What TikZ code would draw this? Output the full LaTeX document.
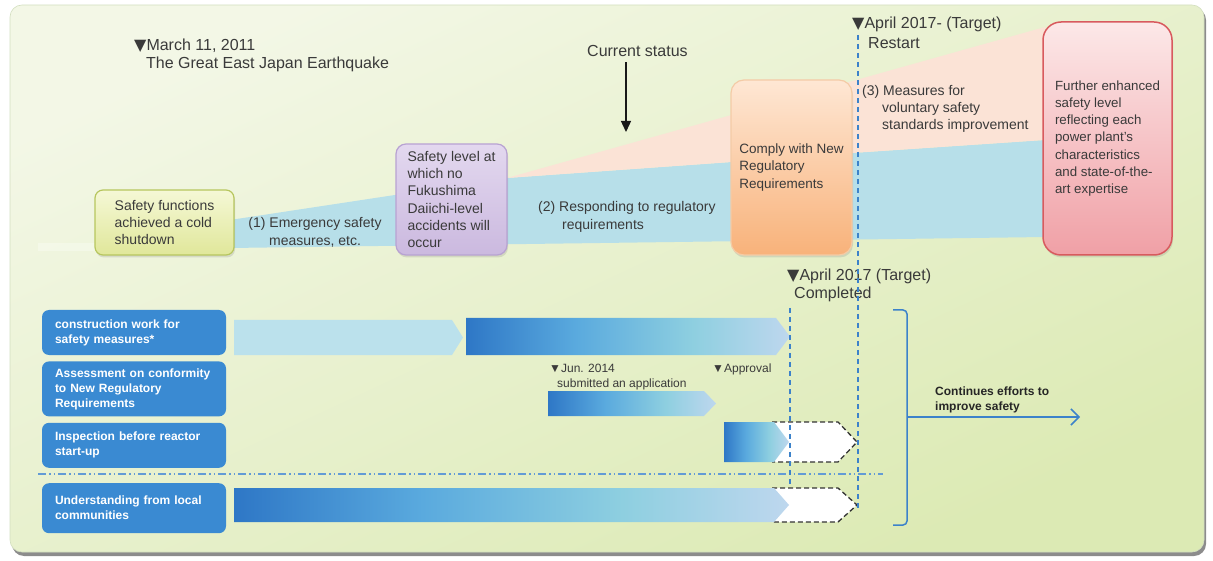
\documentclass[tikz,border=0pt]{standalone}
\usepackage{fontspec}
\setmainfont{Liberation Sans}
\newfontfamily\symfont{DejaVu Sans}
\newcommand{\dtri}{{\symfont ▼}}
\usetikzlibrary{positioning,shadows,arrows.meta}
\definecolor{bgtop}{HTML}{F3F7E6}
\definecolor{bgbot}{HTML}{DCEAB4}
\definecolor{bgedge}{HTML}{D3DFC0}
\definecolor{txtgray}{HTML}{3A3A3A}
\definecolor{bandblue}{HTML}{B7DFE9}
\definecolor{bandpeach}{HTML}{FBE3D6}
\definecolor{greentop}{HTML}{F5F8D6}
\definecolor{greenbot}{HTML}{E0E79A}
\definecolor{greenedge}{HTML}{B7C65E}
\definecolor{purptop}{HTML}{E3D8EF}
\definecolor{purpbot}{HTML}{CBB9DF}
\definecolor{purpedge}{HTML}{B8A2D2}
\definecolor{orgtop}{HTML}{FEE7D4}
\definecolor{orgbot}{HTML}{F8B27A}
\definecolor{orgedge}{HTML}{F4CBA6}
\definecolor{redtop}{HTML}{FCE8E8}
\definecolor{redbot}{HTML}{F0A0A6}
\definecolor{rededge}{HTML}{D85A5E}
\definecolor{labblue}{HTML}{3A8AD2}
\definecolor{lightbar}{HTML}{BBE1EC}
\definecolor{bardark}{HTML}{2E77C6}
\definecolor{barmid}{HTML}{5AAADE}
\definecolor{barcyan}{HTML}{8ECFE0}
\definecolor{barlight}{HTML}{BED7EE}
\definecolor{markblue}{HTML}{3C82CA}
\pgfdeclarehorizontalshading{barshade}{100bp}{color(0bp)=(bardark); color(25bp)=(bardark); color(42bp)=(barmid); color(60bp)=(barcyan); color(75bp)=(barlight); color(100bp)=(barlight)}

\begin{document}
\begin{tikzpicture}[x=1pt,y=-1pt,
    txt/.style={inner sep=0pt,text=txtgray,align=left,font=\fontsize{14}{17.5}\selectfont},
    bigtxt/.style={txt,font=\fontsize{16}{19}\selectfont},
    smalltxt/.style={txt,font=\fontsize{12}{15}\selectfont},
    stagebox/.style={rounded corners=8pt,inner sep=0pt,align=left,text=txtgray,
        font=\fontsize{14}{17.3}\selectfont,line width=1.2pt,
        drop shadow={opacity=.22,shadow xshift=1pt,shadow yshift=-2.5pt}},
    labelbox/.style={fill=labblue,rounded corners=7pt,minimum width=184pt,text width=158pt,
        align=left,text=white,inner ysep=0pt,font=\bfseries\fontsize{12}{15}\selectfont},
    whitetip/.style={draw=black!80,line width=1.3pt,dash pattern=on 5pt off 3pt},
    vmark/.style={draw=markblue,line width=1.5pt,dash pattern=on 5pt off 4pt}]
  \useasboundingbox (0,0) rectangle (1213,561);
  % frame
  \fill[black!45,rounded corners=12pt] (12,8) rectangle (1206,556);
  \path[draw=bgedge,line width=.6pt,rounded corners=12pt,top color=bgtop,bottom color=bgbot,shading angle=25] (10,5) rectangle (1204,552);
  \fill[white,opacity=.3] (38,243) rectangle (95,251);

  % safety level bands
  \fill[bandblue] (230,220) -- (507,178) -- (732,162) -- (852,153) -- (1045,140) -- (1045,237) -- (230,248) -- cycle;
  \fill[bandpeach] (507,178) -- (1045,27) -- (1045,140) -- (852,153) -- (732,162) -- cycle;

  \node[stagebox,draw=greenedge,top color=greentop,bottom color=greenbot,minimum width=139pt,minimum height=65pt] (cold) at (164.5,222.5)
      {Safety functions\\achieved a cold\\shutdown};
  \node[stagebox,draw=purpedge,top color=purptop,bottom color=purpbot,rounded corners=10pt,minimum width=111pt,minimum height=111pt] (nofuku) at (451.5,199.5)
      {Safety level at\\which no\\Fukushima\\Daiichi-level\\accidents will\\occur};
  \node[stagebox,draw=orgedge,top color=orgtop,bottom color=orgbot,rounded corners=13pt,minimum width=121pt,minimum height=175pt,font=\fontsize{13.5}{17.3}\selectfont] (comply) at (791.5,167.5)
      {Comply with New\\Regulatory\\Requirements};
  \node[stagebox,draw=rededge,line width=1.5pt,top color=redtop,bottom color=redbot,rounded corners=18pt,minimum width=129pt,minimum height=233pt,font=\fontsize{13.3}{17.3}\selectfont] (further) at (1107.5,138.5)
      {Further enhanced\\safety level\\reflecting each\\power plant's\\characteristics\\and state-of-the-\\art expertise};

  \node[txt,align=center,anchor=base] (step1) at (315,245.5) {(1) Emergency safety\\measures, etc.};
  \node[txt,anchor=base west,font=\fontsize{14}{18}\selectfont] (step2) at (538,230) {(2) Responding to regulatory\\\hspace*{24pt}requirements};
  \node[txt,anchor=base west,font=\fontsize{14}{17}\selectfont] (step3) at (862,130) {(3) Measures for\\\hspace*{20pt}voluntary safety\\\hspace*{20pt}standards improvement};

  \node[bigtxt,anchor=base west,font=\fontsize{16}{18}\selectfont] (quake) at (134,69) {\dtri March 11, 2011\\\hspace*{12pt}The Great East Japan Earthquake};
  \node[bigtxt,anchor=base west] (cur) at (587,57) {Current status};
  \coordinate (curtip) at (626,132);
  \draw[-{Triangle[length=11pt,width=10pt]},line width=1.3pt,black!90,shorten <=5pt] (cur.south -| curtip) -- (curtip);
  \node[bigtxt,anchor=base west,font=\fontsize{16}{20}\selectfont] (restart) at (852,49) {\dtri April 2017- (Target)\\\hspace*{16pt}Restart};
  \node[bigtxt,anchor=base west,font=\fontsize{16}{18}\selectfont] (done) at (787,299) {\dtri April 2017 (Target)\\\hspace*{7pt}Completed};

  % schedule rows
  \node[labelbox,minimum height=45pt] (work) at (134,332.5) {construction work for\\safety measures*};
  \node[labelbox,minimum height=55pt,below=6pt of work] (assess) {Assessment on conformity\\to New Regulatory\\Requirements};
  \node[labelbox,minimum height=45pt,below=6pt of assess] (inspect) {Inspection before reactor\\start-up};
  \node[labelbox,minimum height=50pt,below=15pt of inspect] (local) {Understanding from local\\communities};

  \fill[lightbar] (234,320) -- (452,320) -- (463,337.5) -- (452,355) -- (234,355) -- cycle;
  \shade[shading=barshade] (466,318) -- (776,318) -- (790,336.5) -- (776,355) -- (466,355) -- cycle;

  \node[smalltxt,anchor=base west] (jun) at (549,387) {▼Jun. 2014\\\hspace*{8pt}submitted an application};
  \node[smalltxt,anchor=base west] (appr) at (712,372) {▼Approval};
  \shade[shading=barshade] (548,391) -- (704,391) -- (716,403.5) -- (704,416) -- (548,416) -- cycle;

  \fill[white] (772,422) -- (838,422) -- (857,442) -- (838,462) -- (772,462) -- (788,442) -- cycle;
  \draw[whitetip] (772,422) -- (838,422) -- (857,442) -- (838,462) -- (772,462);
  \shade[shading=barshade] (724,422) -- (774,422) -- (789,442) -- (774,462) -- (724,462) -- cycle;

  \draw[markblue!80,line width=1.2pt,dash pattern=on 8pt off 3pt on 1.5pt off 3pt on 1.5pt off 3pt] (38,474) -- (883,474);

  \fill[white] (772,488) -- (838,488) -- (857,505) -- (838,522) -- (772,522) -- (788,505) -- cycle;
  \draw[whitetip] (772,488) -- (838,488) -- (857,505) -- (838,522) -- (772,522);
  \shade[shading=barshade] (234,488) -- (774,488) -- (789,505) -- (774,522) -- (234,522) -- cycle;

  % target dates
  \coordinate (rtop) at (858,35);
  \coordinate (rbot) at (858,510);
  \coordinate (ctop) at (790,308);
  \coordinate (cbot) at (790,487);
  \draw[vmark] (rtop) -- (rbot);
  \draw[vmark] (ctop) -- (cbot);

  \draw[markblue,line width=1.5pt,rounded corners=4pt] (893,310) -- (907,310) -- (907,525) -- (893,525);
  \coordinate (brk) at (907,417);
  \coordinate (goal) at (1080,417);
  \draw[-{Straight Barb[length=8pt,width=16pt]},markblue,line width=1.5pt] (brk) -- (goal);
  \node[smalltxt,anchor=base west,font=\bfseries\fontsize{12}{15}\selectfont,text=black!85] (cont) at (935,410) {Continues efforts to\\improve safety};
\end{tikzpicture}
\end{document}
